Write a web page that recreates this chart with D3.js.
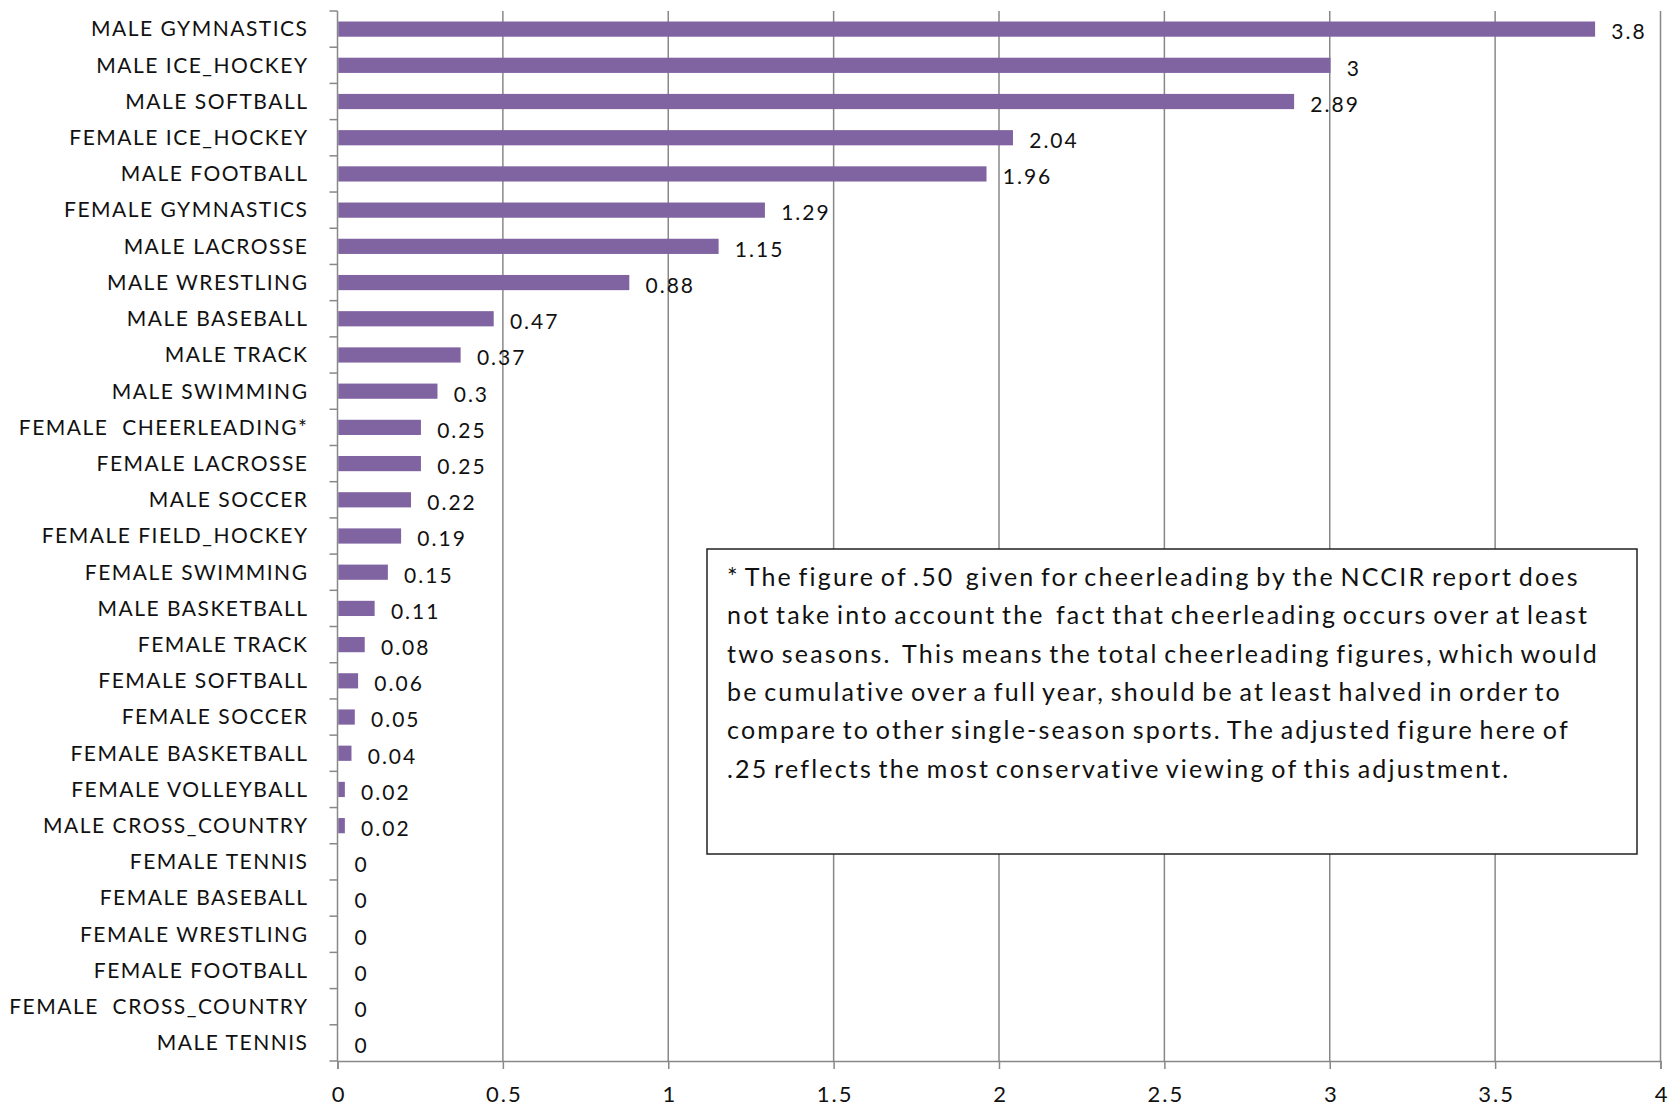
<!DOCTYPE html>
<html>
<head>
<meta charset="utf-8">
<script src="https://cdn.jsdelivr.net/npm/d3@7"></script>
<style>
  html, body { margin: 0; padding: 0; background: #fff; }
  svg { display: block; }
  .cat { font-family: Lato, "Open Sans", sans-serif; font-size: 21px; fill: #111; letter-spacing: 1.5px; }
  .val { font-family: Lato, "Open Sans", sans-serif; font-size: 21px; fill: #111; letter-spacing: 2px; }
  .tick-x { font-family: Lato, "Open Sans", sans-serif; font-size: 22px; fill: #111; letter-spacing: 2px; }
  .note { font-family: Lato, "Open Sans", sans-serif; font-size: 25px; fill: #111; letter-spacing: 2.2px; word-spacing: -3px; }
</style>
</head>
<body>
<svg id="chart" width="1680" height="1107"></svg>
<script>
// Injury rates by sport and gender (sorted, highest first)
const categories = [
  "MALE GYMNASTICS", "MALE ICE_HOCKEY", "MALE SOFTBALL", "FEMALE ICE_HOCKEY",
  "MALE FOOTBALL", "FEMALE GYMNASTICS", "MALE LACROSSE", "MALE WRESTLING",
  "MALE BASEBALL", "MALE TRACK", "MALE SWIMMING", "FEMALE  CHEERLEADING*",
  "FEMALE LACROSSE", "MALE SOCCER", "FEMALE FIELD_HOCKEY", "FEMALE SWIMMING",
  "MALE BASKETBALL", "FEMALE TRACK", "FEMALE SOFTBALL", "FEMALE SOCCER",
  "FEMALE BASKETBALL", "FEMALE VOLLEYBALL", "MALE CROSS_COUNTRY", "FEMALE TENNIS",
  "FEMALE BASEBALL", "FEMALE WRESTLING", "FEMALE FOOTBALL", "FEMALE  CROSS_COUNTRY",
  "MALE TENNIS"
];
const values = [
  3.8, 3, 2.89, 2.04, 1.96, 1.29, 1.15, 0.88, 0.47, 0.37, 0.3, 0.25, 0.25, 0.22,
  0.19, 0.15, 0.11, 0.08, 0.06, 0.05, 0.04, 0.02, 0.02, 0, 0, 0, 0, 0, 0
];
const xTicks = [0, 0.5, 1, 1.5, 2, 2.5, 3, 3.5, 4];
const noteLines = [
  "* The figure of .50  given for cheerleading by the NCCIR report does",
  "not take into account the  fact that cheerleading occurs over at least",
  "two seasons.  This means the total cheerleading figures, which would",
  "be cumulative over a full year, should be at least halved in order to",
  "compare to other single-season sports. The adjusted figure here of",
  ".25 reflects the most conservative viewing of this adjustment."
];

const rows = categories.map((c, i) => ({ name: c, value: values[i] }));

const svg = d3.select("#chart");
const margin = { left: 337.5, right: 19.5, top: 11, bottom: 46 };
const W = 1680, H = 1107;

const x = d3.scaleLinear().domain([0, 4]).range([margin.left, W - margin.right]);
const y = d3.scaleBand().domain(categories).range([margin.top, H - margin.bottom]).paddingInner(0.58).paddingOuter(0.29);
const gridColor = "#888888";

// vertical gridlines
svg.append("g").selectAll("line").data(xTicks.filter(t => t > 0)).join("line")
  .attr("x1", d => x(d)).attr("x2", d => x(d))
  .attr("y1", margin.top).attr("y2", H - margin.bottom)
  .attr("stroke", gridColor).attr("stroke-width", 1.5);

// bottom axis
const xAxis = d3.axisBottom(x).tickValues(xTicks).tickSize(8).tickPadding(17).tickFormat(d3.format("~g"));
const gx = svg.append("g").attr("transform", `translate(0,${H - margin.bottom})`).call(xAxis);
gx.select(".domain").attr("stroke", gridColor).attr("stroke-width", 1.5);
gx.selectAll(".tick line").attr("stroke", gridColor).attr("stroke-width", 1.5);
gx.selectAll(".tick text").attr("class", "tick-x").attr("font-family", null).attr("font-size", null).attr("dx", "1px");

// left axis with ticks between categories
const step = y.step();
const boundaries = d3.range(categories.length + 1).map(i => margin.top + i * step);
const gy = svg.append("g");
gy.append("line").attr("x1", margin.left).attr("x2", margin.left)
  .attr("y1", margin.top).attr("y2", H - margin.bottom)
  .attr("stroke", gridColor).attr("stroke-width", 1.5);
gy.selectAll("line.tk").data(boundaries).join("line").attr("class", "tk")
  .attr("x1", margin.left - 8).attr("x2", margin.left)
  .attr("y1", d => d).attr("y2", d => d)
  .attr("stroke", gridColor).attr("stroke-width", 1.5);

// category labels
svg.append("g").selectAll("text").data(rows).join("text")
  .attr("class", "cat")
  .attr("xml:space", "preserve")
  .attr("x", margin.left - 29)
  .attr("y", d => y(d.name) + y.bandwidth() / 2)
  .attr("dy", "0.35em")
  .attr("text-anchor", "end")
  .text(d => d.name);

// bars
svg.append("g").selectAll("rect").data(rows).join("rect")
  .attr("x", x(0) + 0.75)
  .attr("y", d => y(d.name))
  .attr("width", d => Math.max(0, x(d.value) - x(0)))
  .attr("height", y.bandwidth())
  .attr("fill", "#8064A2");

// value labels
svg.append("g").selectAll("text").data(rows).join("text")
  .attr("class", "val")
  .attr("x", d => x(d.value) + 17)
  .attr("y", d => y(d.name) + y.bandwidth() / 2 + 3)
  .attr("dy", "0.35em")
  .text(d => d3.format("~g")(d.value));

// footnote box
const box = { x0: 707, y0: 549, x1: 1637, y1: 854 };
svg.append("rect")
  .attr("x", box.x0).attr("y", box.y0)
  .attr("width", box.x1 - box.x0).attr("height", box.y1 - box.y0)
  .attr("fill", "#fff").attr("stroke", "#222").attr("stroke-width", 1.5);
svg.append("g").selectAll("text").data(noteLines).join("text")
  .attr("class", "note")
  .attr("xml:space", "preserve")
  .attr("x", box.x0 + 20)
  .attr("y", (d, i) => box.y0 + 37 + i * 38.3)
  .text(d => d);
</script>
</body>
</html>
